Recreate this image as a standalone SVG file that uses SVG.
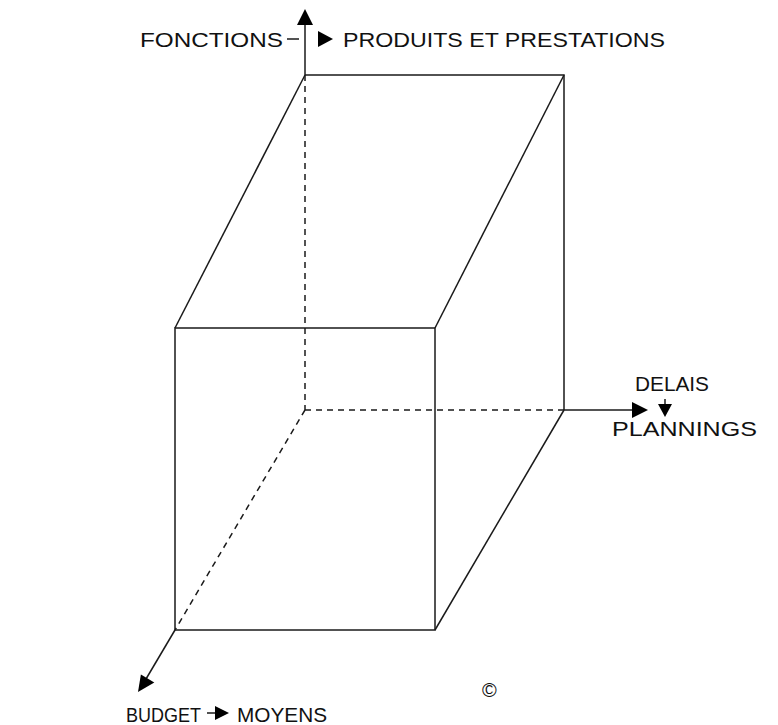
<svg xmlns="http://www.w3.org/2000/svg" width="778" height="725" viewBox="0 0 778 725">
<style>
.s{stroke:#1a1a1a;stroke-width:1.5;fill:none}
.d{stroke:#1a1a1a;stroke-width:1.5;fill:none;stroke-dasharray:6 5}
.h{fill:#000}
text{font-family:"Liberation Sans",Arial,sans-serif;font-size:21px;fill:#111}
</style>
<rect width="778" height="725" fill="#fff"/>
<g id="connectors">
<line class="s" x1="305" y1="75" x2="305" y2="22"/>
<polygon class="h" points="305,9 297,25 313,25"/>
<line class="s" x1="564" y1="410" x2="634" y2="410"/>
<polygon class="h" points="648,410 632,402 632,418"/>
<line class="s" x1="175" y1="630" x2="146" y2="679"/>
<polygon class="h" points="138,692 140.9,674.6 154.3,682.6"/>
</g>
<g id="cube">
<line class="d" x1="305" y1="75" x2="305" y2="410"/>
<line class="d" x1="305" y1="410" x2="564" y2="410"/>
<line class="d" x1="305" y1="410" x2="175" y2="630"/>
<polyline class="s" points="305,75 564,75 564,410"/>
<line class="s" x1="305" y1="75" x2="175" y2="328"/>
<line class="s" x1="564" y1="75" x2="435" y2="328"/>
<line class="s" x1="564" y1="410" x2="435" y2="630"/>
<rect class="s" x="175" y="328" width="260" height="302"/>
</g>
<g id="label-fonctions">
<text x="140" y="47" textLength="143" lengthAdjust="spacingAndGlyphs">FONCTIONS</text>
<line class="s" x1="287" y1="39" x2="299" y2="39"/>
<polygon class="h" points="333,39 318,31 318,47"/>
<text x="343" y="47" textLength="322" lengthAdjust="spacingAndGlyphs">PRODUITS ET PRESTATIONS</text>
</g>
<g id="label-delais">
<text x="635" y="391" textLength="74" lengthAdjust="spacingAndGlyphs">DELAIS</text>
<line class="s" x1="665" y1="399" x2="665" y2="405"/>
<polygon class="h" points="665,417 658,404 672,404"/>
<text x="612" y="436" textLength="145" lengthAdjust="spacingAndGlyphs">PLANNINGS</text>
</g>
<g id="label-budget">
<text x="126" y="722" textLength="75" lengthAdjust="spacingAndGlyphs">BUDGET</text>
<line class="s" x1="207" y1="713" x2="218" y2="713"/>
<polygon class="h" points="229,713 215,706 215,720"/>
<text x="237" y="722" textLength="90" lengthAdjust="spacingAndGlyphs">MOYENS</text>
</g>
<text x="482" y="697" style="font-size:20px">©</text>
</svg>
